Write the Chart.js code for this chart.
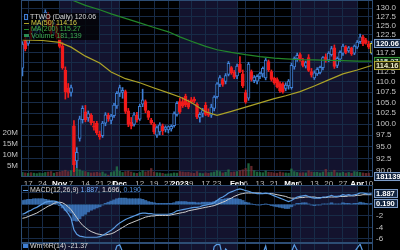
<!DOCTYPE html>
<html>
<head>
<meta charset="utf-8">
<title>TTWO (Daily)</title>
<script src="https://cdn.jsdelivr.net/npm/chart.js@4.4.1/dist/chart.umd.min.js"></script>
<style>
  html, body { margin: 0; padding: 0; background: #000; }
  body { width: 400px; height: 250px; overflow: hidden; position: relative; font-family: "Liberation Sans", Arial, sans-serif; }
  .pane { position: absolute; left: 0; width: 400px; }
  #paneMain { top: 0; height: 188px; }
  #paneMacd { top: 185px; height: 58px; }
  #paneWpr { top: 243px; height: 60px; }
  .lab { position: absolute; font-size: 7px; line-height: 6.2px; white-space: nowrap; color: #d8d8d8; }
  #legend { left: 22px; top: 13px; padding: 1px 3px 1px 1px; background: rgba(0,0,0,0.72); }
  .ic { display: inline-block; width: 5px; margin: 0 2px 0 1px; vertical-align: middle; }
</style>
</head>
<body>
<div class="pane" id="paneMain"><canvas id="mainChart"></canvas></div>
<div class="pane" id="paneMacd"><canvas id="macdChart"></canvas></div>
<div class="pane" id="paneWpr"><canvas id="wprChart"></canvas></div>
<div class="lab" id="legend"></div>
<div class="lab" id="macdLabel" style="left:22px;top:187px"></div>
<div class="lab" id="wprLabel" style="left:22px;top:243px"></div>
<script>
// trading days shown
const dates = [
  '2022-10-13','2022-10-14','2022-10-17','2022-10-18','2022-10-19','2022-10-20','2022-10-21','2022-10-24','2022-10-25','2022-10-26','2022-10-27','2022-10-28','2022-10-31',
  '2022-11-01','2022-11-02','2022-11-03','2022-11-04','2022-11-07','2022-11-08','2022-11-09','2022-11-10','2022-11-11','2022-11-14','2022-11-15','2022-11-16','2022-11-17','2022-11-18','2022-11-21','2022-11-22','2022-11-23','2022-11-25','2022-11-28','2022-11-29','2022-11-30',
  '2022-12-01','2022-12-02','2022-12-05','2022-12-06','2022-12-07','2022-12-08','2022-12-09','2022-12-12','2022-12-13','2022-12-14','2022-12-15','2022-12-16','2022-12-19','2022-12-20','2022-12-21','2022-12-22','2022-12-23','2022-12-27','2022-12-28','2022-12-29','2022-12-30',
  '2023-01-03','2023-01-04','2023-01-05','2023-01-06','2023-01-09','2023-01-10','2023-01-11','2023-01-12','2023-01-13','2023-01-17','2023-01-18','2023-01-19','2023-01-20','2023-01-23','2023-01-24','2023-01-25','2023-01-26','2023-01-27','2023-01-30','2023-01-31',
  '2023-02-01','2023-02-02','2023-02-03','2023-02-06','2023-02-07','2023-02-08','2023-02-09','2023-02-10','2023-02-13','2023-02-14','2023-02-15','2023-02-16','2023-02-17','2023-02-21','2023-02-22','2023-02-23','2023-02-24','2023-02-27','2023-02-28',
  '2023-03-01','2023-03-02','2023-03-03','2023-03-06','2023-03-07','2023-03-08','2023-03-09','2023-03-10','2023-03-13','2023-03-14','2023-03-15','2023-03-16','2023-03-17','2023-03-20','2023-03-21','2023-03-22','2023-03-23','2023-03-24','2023-03-27','2023-03-28','2023-03-29','2023-03-30','2023-03-31',
  '2023-04-03','2023-04-04','2023-04-05','2023-04-06','2023-04-10','2023-04-11'
];

// x axis labels
const tickDates = ['2022-10-17','2022-10-24','2022-11-01','2022-11-07','2022-11-14','2022-11-21','2022-11-28','2022-12-01','2022-12-12','2022-12-19','2022-12-27',
  '2023-01-03','2023-01-09','2023-01-17','2023-01-23','2023-02-01','2023-02-06','2023-02-13','2023-02-21','2023-03-01','2023-03-06','2023-03-13','2023-03-20','2023-03-27','2023-04-03','2023-04-10'];
const tickText = ['17','24','Nov','7','14','21','28','Dec','12','19','27','2023','9','17','23','Feb','6','13','21','Mar','6','13','20','27','Apr','10'];

// price axis / indicator axis ticks
const priceTicks = [90, 92.5, 95, 97.5, 100, 102.5, 105, 107.5, 110, 112.5, 115, 117.5, 120, 122.5, 125, 127.5, 130];
const volTicks = [5, 10, 15, 20];
const macdTicks = [-6, -4, -2, 0, 2];

// OHLC
const open = [
  113.5,120.8,120,123.5,122,123.5,123.8,126.5,127.5,128,125.5,123,125,
  122.3,119.3,113,108.5,107.4,99.6,92,96.8,101,102.8,101.4,102,99.6,100.2,97.8,97.4,100.2,102,100.8,101.9,104.2,
  107.2,107.4,107.6,103,100.4,99.9,102,101.1,104.6,105.2,102.9,100.9,100,97.5,98.2,99.6,98.8,98.7,98.9,99.6,102.2,
  105.2,105.2,106.5,105,105.6,105.8,104.6,101.5,102.4,104.3,102.6,102,103.6,106.4,109.4,110.6,110.1,111.9,113.6,112.4,
  111.5,114.5,112,107.4,106,112.6,110.3,110.2,111.4,112,111,115.2,112.6,110.9,110.6,109.6,109.5,108.4,109,
  108.6,113.8,116,117,115.4,114,116.2,112.6,111,112,112.4,113.6,116.4,115.6,117,118.8,114.2,115.8,117.4,119,118,118.8,117.4,
  119,120.5,121.8,121,119.8,117.4
];
const high = [
  120.5,122,122.5,124.5,124,125.5,126.8,128,129.5,128.6,126.2,126,125.4,
  122.8,120.2,113.8,109.6,109.2,100.8,94.8,101.8,104.2,104.3,103,102.4,100.6,100.6,98.4,100.6,102.6,102.5,102.2,104.8,107.6,
  109.2,108.6,108,103.6,101.5,102.6,102.7,104.6,108.2,105.6,103.1,101.3,100.3,99.6,100.3,100,99.6,99.6,99.8,102.8,105.2,
  106,106.2,107,105.6,106.2,106.3,104.9,102.6,103.6,105,103.5,104.6,106.6,109.8,111.6,110.9,112.1,115.2,113.9,112.9,
  114.5,116.5,113,108,115,113,111.6,111.8,112.5,113.8,116,115.6,113,111.2,111,110,109.8,109.8,110.6,
  114.8,116.4,117.4,117.5,116,115.3,117,113.4,112.8,113.6,114,116.5,117.2,117.8,119.2,119.6,116.4,118,119.8,119.4,119.2,119,119.6,
  120.8,122.6,122.2,121.4,120.6,120.6
];
const low = [
  111.5,118,119.5,121,121.2,122.8,123,125.2,126.8,124.8,122.4,122.5,121.2,
  118.8,113.2,105.8,106.2,106.5,89.8,90.6,96.2,100.2,100.5,100.6,99.8,98.6,97.6,96.6,97,99.6,100.6,100,101.5,103.6,
  106.4,106,102.4,99.4,98.9,99.5,100.4,100.8,104,102.6,101,99.9,97.8,97,97.6,97.6,98.2,98,98.4,99.3,101.8,
  102.4,103.8,104,103.5,104.8,104.9,101.2,100.4,101.6,101.9,101.7,101.5,103,106,108.8,108.9,109.5,111.5,111.9,110.8,
  110.8,112.3,108.6,104.8,105.5,110.2,109.8,109.5,110.8,111.2,110.5,112.6,110.2,109.4,108.5,107.4,107.2,107.8,108.2,
  108.2,113.2,115.2,115.3,113.8,113.5,112.6,111.2,110.6,111.6,112,113,115,115.1,116.6,113.4,113.6,115.2,116.8,117.2,117.6,116.8,117,
  118.6,120,119.4,119.8,118.6,117.1
];
const close = [
  119.8,118.6,122,122.5,123.6,124.2,126.4,127.2,128.8,125.3,122.9,125.6,121.7,
  119.2,113.6,107.6,107.2,108.6,91.2,93.8,101.2,103.6,101,102.4,100.3,99.3,98,97.1,100.2,102.1,101.2,101.8,104.4,107.2,
  108.6,107.9,102.9,99.9,99.5,102.1,101,104.1,105.6,103.1,101.5,100.2,98.2,99.2,99.8,98.5,99.3,99.4,99.5,102.4,104.8,
  102.8,104.2,104.5,103.9,105.1,105.3,101.6,102.2,103.1,102.2,102,103.9,106.3,109.5,111.1,109.4,111.6,114.7,112.3,111.2,
  114,112.6,109,105.2,114.5,110.6,111.2,111.4,112.1,113.4,115.6,113,110.6,109.8,108.8,107.8,107.6,109.2,110.2,
  114.2,116,116.8,115.6,114.2,114.9,112.9,111.7,112.3,113.2,113.7,116.2,115.4,117.4,118.6,113.9,116,117.6,119.3,117.6,118.8,117.2,119.3,
  120.4,121.8,119.9,120.2,119,120.06
];

// volume, millions of shares
const volume = [
  2.2,2.0,1.8,2.1,1.9,1.7,2.0,1.8,2.2,2.4,2.6,1.9,2.3,
  2.4,2.8,3.2,2.6,3.0,7.0,4.2,3.4,2.8,2.6,2.2,2.0,2.1,2.3,2.0,2.4,1.6,1.0,2.2,2.6,4.8,
  2.8,2.2,2.6,2.8,2.4,2.0,1.8,2.2,3.0,2.5,2.8,4.0,2.4,2.1,2.0,1.8,1.5,1.6,1.7,2.0,1.9,
  2.6,2.4,2.2,2.3,2.0,1.8,2.6,1.9,1.7,2.0,1.8,2.1,2.4,3.0,2.6,2.0,2.3,3.4,2.2,2.4,
  2.6,3.0,3.4,4.0,6.2,5.0,3.0,2.4,2.2,2.1,2.9,2.3,2.2,2.0,1.9,2.4,2.1,2.0,1.9,
  3.8,2.6,2.2,2.0,2.1,2.0,3.0,2.4,2.2,2.3,2.0,2.4,3.6,2.2,2.4,3.2,2.1,2.0,2.3,1.9,2.2,1.8,2.6,
  2.4,2.2,2.0,1.8,1.9,0.181139
];

// moving averages, read weekly
const maDates = ['2022-10-13','2022-10-24','2022-11-01','2022-11-07','2022-11-14','2022-11-21','2022-11-28','2022-12-05','2022-12-12','2022-12-19','2022-12-27',
  '2023-01-03','2023-01-09','2023-01-17','2023-01-23','2023-01-30','2023-02-06','2023-02-13','2023-02-21','2023-02-27','2023-03-06','2023-03-13','2023-03-20','2023-03-27','2023-04-03','2023-04-11'];
const ma50 = [121.0,120.8,120.3,119.0,116.6,114.8,112.5,110.8,109.8,108.5,107.3,106.3,105.0,102.8,102.0,102.9,103.9,104.9,105.9,106.6,107.6,109.0,110.5,112.0,113.0,114.16];
const ma200 = [138.0,135.5,133.8,132.5,130.8,129.5,128.3,127.0,125.7,124.4,123.2,121.8,120.6,119.2,118.3,117.6,117.0,116.5,116.1,115.9,115.7,115.6,115.5,115.4,115.3,115.27];

// MACD(12,26,9)
const macdLine = [
  -1.7,-1.5,-1.2,-1.0,-0.7,-0.5,-0.2,0.1,0.4,0.5,0.6,0.6,0.5,
  0.2,-0.3,-1.0,-1.6,-2.4,-4.4,-5.2,-5.5,-5.6,-5.7,-5.7,-5.7,-5.7,-5.7,-5.6,-5.4,-5.1,-4.8,-4.5,-4.1,-3.6,
  -3.2,-2.9,-2.6,-2.4,-2.2,-2.0,-1.8,-1.6,-1.5,-1.5,-1.6,-1.6,-1.7,-1.7,-1.7,-1.7,-1.7,-1.7,-1.6,-1.4,-1.1,
  -1.0,-0.9,-0.8,-0.7,-0.6,-0.5,-0.5,-0.4,-0.2,-0.1,0.0,0.1,0.3,0.7,1.1,1.3,1.6,2.0,2.2,2.4,
  2.6,2.7,2.6,2.4,2.3,2.1,2.0,1.9,1.9,1.9,2.0,1.9,1.7,1.5,1.3,1.1,0.9,0.7,0.5,
  0.7,1.0,1.3,1.4,1.5,1.6,1.4,1.2,1.1,1.1,1.1,1.3,1.3,1.4,1.6,1.4,1.4,1.5,1.7,1.6,1.7,1.6,1.7,
  1.8,2.0,2.0,1.9,1.8,1.887
];
const signalLine = [
  -2.4,-2.3,-2.1,-1.9,-1.7,-1.5,-1.2,-0.9,-0.6,-0.3,-0.1,0.2,0.35,
  0.4,0.3,0.0,-0.4,-0.9,-1.6,-2.3,-3.0,-3.6,-4.0,-4.4,-4.7,-4.9,-5.1,-5.2,-5.3,-5.3,-5.2,-5.1,-4.9,-4.6,
  -4.3,-4.0,-3.7,-3.4,-3.2,-3.0,-2.8,-2.6,-2.4,-2.2,-2.1,-2.0,-2.0,-1.9,-1.9,-1.9,-1.9,-1.9,-1.8,-1.7,-1.6,
  -1.5,-1.4,-1.3,-1.1,-1.0,-0.9,-0.8,-0.7,-0.6,-0.5,-0.4,-0.3,-0.2,0.0,0.2,0.4,0.6,0.9,1.1,1.4,
  1.6,1.8,1.9,2.0,2.0,2.0,2.0,2.0,2.0,1.9,1.9,1.9,1.9,1.8,1.7,1.6,1.5,1.4,1.2,
  1.1,1.1,1.1,1.2,1.2,1.3,1.3,1.3,1.3,1.2,1.2,1.2,1.2,1.3,1.3,1.3,1.3,1.4,1.4,1.4,1.5,1.5,1.5,
  1.6,1.6,1.7,1.7,1.7,1.696
];
const histogram = [
  0.7,0.8,0.9,0.9,1.0,1.0,1.0,1.0,0.9,0.8,0.6,0.4,0.2,
  -0.2,-0.6,-1.0,-1.2,-1.5,-2.8,-2.9,-2.5,-2.0,-1.7,-1.3,-1.0,-0.8,-0.6,-0.4,-0.1,0.2,0.4,0.6,0.8,1.0,
  1.1,1.1,1.1,1.0,1.0,1.0,1.0,1.0,0.9,0.7,0.5,0.4,0.3,0.2,0.2,0.2,0.2,0.2,0.2,0.3,0.5,
  0.5,0.5,0.5,0.4,0.4,0.4,0.3,0.3,0.4,0.4,0.4,0.4,0.5,0.7,0.9,0.9,1.0,1.1,1.1,1.0,
  1.0,0.9,0.7,0.4,0.3,0.1,0.0,-0.1,-0.1,0.0,0.1,0.0,-0.2,-0.3,-0.4,-0.5,-0.6,-0.7,-0.7,
  -0.4,-0.1,0.2,0.2,0.3,0.3,0.1,-0.1,-0.2,-0.1,-0.1,0.1,0.1,0.1,0.3,0.1,0.1,0.1,0.3,0.2,0.2,0.1,0.2,
  0.2,0.4,0.3,0.2,0.1,0.19
];

// Williams %R(14)
const wpr = [
  -35,-50,-25,-28,-22,-20,-18,-16,-15,-30,-45,-28,-50,
  -62,-90,-98,-96,-85,-98,-88,-45,-35,-50,-42,-55,-60,-65,-70,-48,-30,-38,-33,-20,-5,
  -3,-15,-55,-80,-85,-65,-72,-45,-30,-50,-65,-75,-92,-80,-75,-85,-78,-78,-76,-40,-22,
  -35,-22,-20,-28,-25,-24,-55,-48,-40,-45,-48,-30,-6,-2,-3,-25,-10,-15,-20,-28,
  -20,-18,-35,-60,-25,-40,-35,-33,-28,-18,-5,-30,-50,-60,-68,-75,-78,-60,-50,
  -15,-3,-12,-18,-25,-22,-45,-55,-48,-40,-35,-20,-18,-20,-16,-45,-20,-22,-18,-22,-20,-20,-15,
  -8,-2,-15,-18,-22,-21.37
];

const fam = "'Liberation Sans', Arial, sans-serif";
Chart.defaults.font.family = fam;
Chart.defaults.font.size = 8;
Chart.defaults.color = '#c4c4c4';
Chart.defaults.animation = false;

const gridColor = '#172b47';
const edgeColor = '#2d4d74';
const bandColor = '#13132e';
const upColor = '#3f7fd4';
const downColor = '#f21b1b';
const ma50Color = '#aca227';
const ma200Color = '#23872a';
const last = close.length - 1;

const candleColor = close.map((c, i) => c >= open[i] ? upColor : downColor);
const bodyFill = close.map((c, i) => c >= open[i] ? '#0b1224' : downColor);
const bodyEdge = candleColor.slice();
bodyEdge[last] = '#d2cc3a';
bodyFill[last] = '#1c1c08';
const volColor = close.map((c, i) => c >= open[i] ? 'rgba(36,120,72,0.8)' : 'rgba(120,48,52,0.8)');

const isMonth = i => /[A-Za-z]|2023/.test(tickText[i]);

// month shading + frame
const monthBands = {
  id: 'monthBands',
  beforeDraw(chart) {
    const { ctx, chartArea: a, scales: { x } } = chart;
    const starts = [];
    dates.forEach((d, i) => { if (i === 0 || d.slice(5, 7) !== dates[i - 1].slice(5, 7)) starts.push(i); });
    ctx.save();
    ctx.fillStyle = '#000';
    ctx.fillRect(a.left, a.top, a.width, a.height);
    ctx.fillStyle = bandColor;
    starts.forEach((s, k) => {
      if (k % 2 === 0) return;
      const x0 = x.getPixelForValue(s);
      const x1 = k + 1 < starts.length ? x.getPixelForValue(starts[k + 1]) : a.right;
      ctx.fillRect(x0, a.top, x1 - x0, a.height);
    });
    ctx.restore();
  },
  afterDraw(chart) {
    const { ctx, chartArea: a } = chart;
    ctx.save();
    ctx.strokeStyle = edgeColor;
    ctx.lineWidth = 1;
    ctx.strokeRect(Math.round(a.left) + 0.5, Math.round(a.top) + 0.5, Math.round(a.width) - 1, Math.round(a.height) - 1);
    ctx.restore();
  }
};

function drawTag(ctx, x, y, text, fill, edge, color) {
  ctx.save();
  ctx.font = 'bold 7.5px ' + fam;
  const w = Math.max(24, ctx.measureText(text).width + 4);
  ctx.fillStyle = fill;
  ctx.fillRect(x, y - 4.5, w, 9);
  ctx.strokeStyle = edge;
  ctx.lineWidth = 1;
  ctx.strokeRect(Math.round(x) + 0.5, Math.round(y - 4.5) + 0.5, w - 1, 8);
  ctx.fillStyle = color;
  ctx.textBaseline = 'middle';
  ctx.fillText(text, x + 2, y + 0.5);
  ctx.restore();
}

const mainTags = {
  id: 'mainTags',
  afterDraw(chart) {
    const { ctx, chartArea: a, scales: { y, vol } } = chart;
    const x = a.right + 1;
    drawTag(ctx, x, y.getPixelForValue(close[last]), close[last].toFixed(2), '#142640', '#7d9cc8', '#ffffff');
    drawTag(ctx, x, y.getPixelForValue(ma200[ma200.length - 1]), ma200[ma200.length - 1].toFixed(2), '#0b240d', '#2f8f35', '#cfe6cf');
    drawTag(ctx, x, y.getPixelForValue(ma50[ma50.length - 1]), ma50[ma50.length - 1].toFixed(2), '#26240a', '#b0a83a', '#ecebc8');
    drawTag(ctx, x, vol.getPixelForValue(volume[last]), String(Math.round(volume[last] * 1e6)), '#142640', '#7d9cc8', '#ffffff');
  }
};

const macdTags = {
  id: 'macdTags',
  afterDraw(chart) {
    const { ctx, chartArea: a, scales: { y } } = chart;
    drawTag(ctx, a.right + 1, y.getPixelForValue(macdLine[last]), macdLine[last].toFixed(3), '#142640', '#7d9cc8', '#ffffff');
    drawTag(ctx, a.right + 1, y.getPixelForValue(histogram[last]), histogram[last].toFixed(3), '#142640', '#7d9cc8', '#ffffff');
  }
};

function fixWidth(w) { return s => { s.width = w; s.paddingTop = 0; s.paddingBottom = 0; }; }
function fixHeight(h) { return s => { s.height = h; s.paddingLeft = 0; s.paddingRight = 0; }; }

function timeAxis(showLabels, h) {
  return {
    type: 'category',
    offset: true,
    grid: { color: gridColor, offset: false, drawTicks: false },
    border: { display: false },
    afterBuildTicks: s => { s.ticks = tickDates.map(d => ({ value: dates.indexOf(d) })); },
    ticks: {
      display: showLabels, autoSkip: false, maxRotation: 0, padding: 2,
      callback: (v, i) => tickText[i],
      color: c => isMonth(c.index) ? '#ffffff' : '#b8b8b8',
      font: c => ({ family: fam, size: 8, weight: isMonth(c.index) ? 'bold' : 'normal' })
    },
    afterFit: fixHeight(h)
  };
}

const baseOptions = {
  responsive: true,
  maintainAspectRatio: false,
  animation: false,
  layout: { padding: 0 },
  plugins: { legend: { display: false }, tooltip: { enabled: false } }
};

// 1. Price panel: candles, moving averages, volume
new Chart(document.getElementById('mainChart'), {
  type: 'bar',
  data: {
    labels: dates,
    datasets: [
      { type: 'line', label: 'MA(50)', data: maDates.map((d, i) => ({ x: d, y: ma50[i] })), borderColor: ma50Color, borderWidth: 1.2, pointRadius: 0, yAxisID: 'y', order: 1 },
      { type: 'line', label: 'MA(200)', data: maDates.map((d, i) => ({ x: d, y: ma200[i] })), borderColor: ma200Color, borderWidth: 1.2, pointRadius: 0, yAxisID: 'y', order: 2 },
      { label: 'body', data: open.map((o, i) => [o, close[i]]), backgroundColor: bodyFill, borderColor: bodyEdge, borderWidth: 1, borderSkipped: false, barThickness: 3, minBarLength: 1, grouped: false, yAxisID: 'y', order: 3 },
      { label: 'wick', data: low.map((l, i) => [l, high[i]]), backgroundColor: candleColor, barThickness: 1, grouped: false, yAxisID: 'y', order: 4 },
      { label: 'Volume', data: volume, backgroundColor: volColor, barPercentage: 0.8, categoryPercentage: 1, grouped: false, yAxisID: 'vol', order: 5 }
    ]
  },
  options: {
    ...baseOptions,
    scales: {
      x: timeAxis(true, 11),
      y: {
        type: 'logarithmic', position: 'right', min: 88.7, max: 132.4,
        grid: { color: gridColor, drawTicks: false },
        border: { display: false },
        afterBuildTicks: s => { s.ticks = priceTicks.map(v => ({ value: v })); },
        ticks: { autoSkip: false, padding: 3, callback: v => Number(v).toFixed(1) },
        afterFit: fixWidth(27)
      },
      vol: {
        type: 'linear', position: 'left', min: 0, max: 80,
        grid: { display: false, drawTicks: false },
        border: { display: false },
        afterBuildTicks: s => { s.ticks = volTicks.map(v => ({ value: v })); },
        ticks: { autoSkip: false, padding: 3, callback: v => v + 'M' },
        afterFit: fixWidth(21)
      }
    }
  },
  plugins: [monthBands, mainTags]
});

// 2. MACD panel
new Chart(document.getElementById('macdChart'), {
  type: 'bar',
  data: {
    labels: dates,
    datasets: [
      { type: 'line', data: macdLine, borderColor: '#5a9be2', borderWidth: 1.2, pointRadius: 0, order: 1 },
      { type: 'line', data: signalLine, borderColor: '#cfcfcf', borderWidth: 1, pointRadius: 0, order: 2 },
      { data: histogram, backgroundColor: 'rgba(62,124,196,0.8)', barPercentage: 1, categoryPercentage: 1, order: 3 }
    ]
  },
  options: {
    ...baseOptions,
    scales: {
      x: timeAxis(false, 0),
      y: {
        type: 'linear', position: 'right', min: -6.7, max: 3.39,
        grid: { color: gridColor, drawTicks: false },
        border: { display: false },
        afterBuildTicks: s => { s.ticks = macdTicks.map(v => ({ value: v })); },
        ticks: { autoSkip: false, padding: 3, callback: v => v < 0 ? String(v) : '' },
        afterFit: fixWidth(27)
      },
      side: {
        type: 'linear', position: 'left', min: -6.7, max: 3.39,
        grid: { display: false, drawTicks: false }, border: { display: false }, ticks: { display: false },
        afterFit: fixWidth(21)
      }
    }
  },
  plugins: [monthBands, macdTags]
});

// 3. Williams %R panel
new Chart(document.getElementById('wprChart'), {
  type: 'line',
  data: {
    labels: dates,
    datasets: [{ data: wpr, borderColor: '#5a9be2', borderWidth: 1.2, pointRadius: 0 }]
  },
  options: {
    ...baseOptions,
    scales: {
      x: timeAxis(false, 0),
      y: {
        type: 'linear', position: 'right', min: -100, max: 0,
        grid: { color: gridColor, drawTicks: false }, border: { display: false },
        ticks: { display: false }, afterFit: fixWidth(27)
      },
      side: {
        type: 'linear', position: 'left', min: -100, max: 0,
        grid: { display: false, drawTicks: false }, border: { display: false }, ticks: { display: false },
        afterFit: fixWidth(21)
      }
    }
  },
  plugins: [monthBands]
});

// text labels
const volText = Math.round(volume[last] * 1e6).toLocaleString('en-US');
document.getElementById('legend').innerHTML =
  '<div><span class="ic" style="width:2px;height:4px;border:1px solid ' + upColor + ';background:#0b1224"></span>TTWO (Daily) ' + close[last].toFixed(2) + '</div>' +
  '<div style="color:#d6cf45"><span class="ic" style="border-top:1px solid ' + ma50Color + '"></span>MA(50) ' + ma50[ma50.length - 1].toFixed(2) + '</div>' +
  '<div style="color:#3fae45"><span class="ic" style="border-top:1px solid ' + ma200Color + '"></span>MA(200) ' + ma200[ma200.length - 1].toFixed(2) + '</div>' +
  '<div style="color:#3fae55"><span class="ic" style="height:3px;background:#2a8a52"></span>Volume ' + volText + '</div>';
document.getElementById('macdLabel').innerHTML =
  '<span class="ic" style="border-top:1px solid #5a9be2"></span>MACD(12,26,9) <span style="color:#6fb0ff">' + macdLine[last].toFixed(3) +
  '</span>, <span style="color:#e0e0e0">' + signalLine[last].toFixed(3) + '</span>, <span style="color:#4f8fe0">' + histogram[last].toFixed(3) + '</span>';
document.getElementById('wprLabel').innerHTML =
  '<span class="ic" style="height:4px;background:#3f7fd4"></span>Wm%R(14) ' + wpr[last].toFixed(2);
</script>
</body>
</html>
